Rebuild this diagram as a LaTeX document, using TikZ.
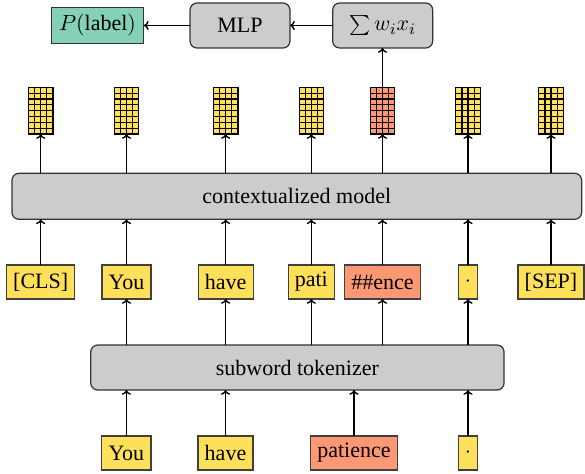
\documentclass[tikz,border=0pt]{standalone}
\usepackage{fontspec}
\setmainfont{Liberation Serif}
\usetikzlibrary{arrows.meta}
\definecolor{tokyellow}{RGB}{255,224,90}
\definecolor{toksalmon}{RGB}{252,152,116}
\definecolor{outgreen}{RGB}{132,208,185}
\begin{document}
\begin{tikzpicture}[x=1pt,y=1pt,font=\fontsize{11}{13}\selectfont,
    >={To[length=2.4pt,width=4.6pt]},
    tok/.style={draw=black!75,semithick,fill=tokyellow,minimum height=17pt,outer sep=0pt},
    block/.style={draw=black!80,semithick,fill=black!20,rounded corners=3.5pt,minimum height=22.5pt,outer sep=0pt},
    vec/.style={draw,semithick,fill=tokyellow,minimum width=12.2pt,minimum height=23.36pt,inner sep=0pt,outer sep=0pt},
    arr/.style={->,line width=0.7pt}]
    \useasboundingbox (0,0) rectangle (292.5,236.5);
    % input words
    \node[tok] (w1) at (63.2,10) {You};
    \node[tok] (w2) at (112.75,10) {have};
    \node[tok,fill=toksalmon] (w3) at (177,10) {patience};
    \node[tok] (w4) at (234,10) {$\cdot$};
    \node[block,minimum width=206.65pt] (sub) at (148.7,52.75) {subword tokenizer};
    % subword tokens
    \node[tok] (t1) at (20.35,95.5) {[CLS]};
    \node[tok] (t2) at (63.25,95.5) {You};
    \node[tok] (t3) at (112.85,95.5) {have};
    \node[tok] (t4) at (155.65,95.5) {pati};
    \node[tok,fill=toksalmon] (t5) at (191.25,95.5) {\#\#ence};
    \node[tok] (t6) at (234,95.5) {$\cdot$};
    \node[tok] (t7) at (275.5,95.5) {[SEP]};
    \node[block,minimum width=284.85pt,minimum height=23pt] (ctx) at (148.4,138.35) {contextualized model};
    % output vectors
    \foreach \i/\c in {1/tokyellow,2/tokyellow,3/tokyellow,4/tokyellow,5/toksalmon,6/tokyellow,7/tokyellow} {
      \node[vec,fill=\c] (v\i) at (t\i |- 0,181.15) {};
      \draw[semithick,shift={(v\i.south west)}] (0,0) grid[xstep=3.05pt,ystep=2.92pt] (12.2pt,23.36pt);
      \draw[arr] (t\i) -- (t\i |- ctx.south);
      \draw[arr] (v\i |- ctx.north) -- (v\i);
    }
    \foreach \i in {2,...,6}
      \draw[arr] (t\i |- sub.north) -- (t\i);
    \foreach \i in {1,...,4}
      \draw[arr] (w\i) -- (w\i |- sub.south);
    % classifier
    \node[block,minimum width=50pt] (sum) at (191.35,223.75) {$\sum w_i x_i$};
    \node[block,minimum width=50pt] (mlp) at (120,223.75) {MLP};
    \node[draw=black!80,semithick,fill=outgreen,minimum width=45.8pt,minimum height=18pt] (plabel) at (48.75,223.75) {$P(\mbox{label})$};
    \draw[arr] (v5) -- (v5 |- sum.south);
    \draw[arr] (sum) -- (mlp);
    \draw[arr] (mlp) -- (plabel);
\end{tikzpicture}
\end{document}
